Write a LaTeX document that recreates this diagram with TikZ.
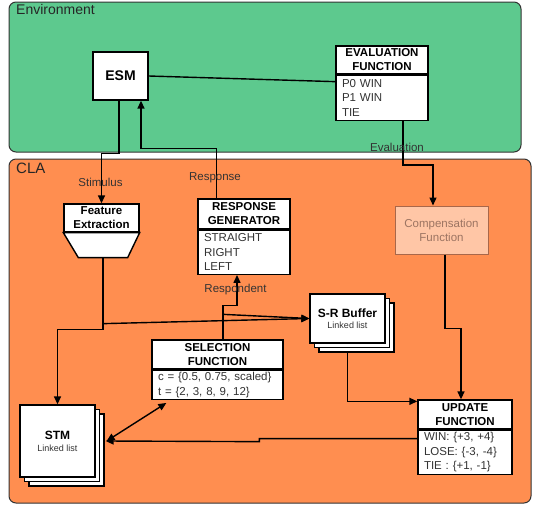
\documentclass[tikz,border=0pt]{standalone}
\usepackage{fontspec}
\setmainfont{Liberation Sans}
\usetikzlibrary{arrows.meta,calc,shadows}
\definecolor{envgreen}{HTML}{5DC98E}
\definecolor{claorange}{HTML}{FF8E50}
\definecolor{compfill}{HTML}{FFC6A6}
\definecolor{compline}{HTML}{A8674A}
\definecolor{comptext}{HTML}{9C7462}
\definecolor{edge}{HTML}{333333}
\tikzset{
  panel/.style={draw=edge,line width=1pt,rounded corners=7pt,inner sep=0pt},
  hdr/.style={draw,fill=white,line width=1.3pt,inner sep=0pt,align=center,
    font=\fontsize{11.5}{14}\selectfont\bfseries},
  lst/.style={draw,fill=white,line width=1.3pt,inner xsep=6pt,inner ysep=0pt,
    align=left,text=black!80,font=\fontsize{11.5}{14.5}\selectfont},
  doc/.style={draw,fill=white,line width=1.3pt,inner sep=0pt,align=center,
    double copy shadow={shadow xshift=4.5pt,shadow yshift=-4.5pt,draw,fill=white}},
  lbl/.style={text=black!80,font=\fontsize{11.5}{13}\selectfont,inner sep=0pt},
  ln/.style={line width=1.4pt},
  arr/.style={line width=1.4pt,-{Triangle[length=8pt,width=7pt]}}
}
\begin{document}
\begin{tikzpicture}[x=1pt,y=-1pt]
  \useasboundingbox (0,0) rectangle (533,506);
  % the two panels
  \node[panel,fill=envgreen,minimum width=512pt,minimum height=150pt] (env) at (265,77) {};
  \node[panel,fill=claorange,minimum width=522pt,minimum height=344pt] (cla) at (270,331) {};
  \node[anchor=north west,inner sep=0pt,text=black!85,font=\fontsize{14}{16}\selectfont] (envlbl) at (16,4) {Environment};
  \node[anchor=north west,inner sep=0pt,text=black!85,font=\fontsize{15}{17}\selectfont] (clalbl) at (16,163) {CLA};

  % environment
  \node[draw,fill=white,line width=1.3pt,minimum width=55pt,minimum height=48pt,
    font=\fontsize{14}{16}\selectfont\bfseries] (esm) at (120.5,76) {ESM};
  \node[hdr,minimum width=92pt,minimum height=28pt] (evalhead) at (382,60) {EVALUATION\\FUNCTION};
  \node[lst,text width=80pt,minimum height=45pt,anchor=north] (evalbody) at (evalhead.south) {P0 WIN\\P1 WIN\\TIE};

  % CLA
  \node[hdr,minimum width=75pt,minimum height=28pt] (feat) at (101.5,218) {Feature\\Extraction};
  \draw[ln,fill=white] (feat.south west) -- (feat.south east) -- ++(-12,25)
    -- ($(feat.south west)+(15,25)$) -- cycle;
  \coordinate (featbot) at ($(feat.south)+(1.5,25)$);

  \node[hdr,minimum width=92pt,minimum height=30pt] (rghead) at (244,214) {RESPONSE\\GENERATOR};
  \node[lst,text width=80pt,minimum height=44pt,anchor=north] (rgbody) at (rghead.south) {STRAIGHT\\RIGHT\\LEFT};

  \node[draw=compline,fill=compfill,line width=1pt,text=comptext,minimum width=93pt,minimum height=48pt,
    align=center,font=\fontsize{11.5}{14}\selectfont] (comp) at (441.5,230) {Compensation\\Function};

  \node[doc,minimum width=75pt,minimum height=49pt,text=black!80,font=\fontsize{9}{11}\selectfont] (buf) at (347.5,318.5)
    {{\fontsize{12}{11}\selectfont\bfseries\color{black}S-R Buffer}\\Linked list};

  \node[hdr,minimum width=131pt,minimum height=29pt] (selhead) at (217.5,354.5) {SELECTION\\FUNCTION};
  \node[lst,text width=119pt,minimum height=29pt,anchor=north] (selbody) at (selhead.south)
    {c = \{0.5, 0.75, scaled\}\\t = \{2, 3, 8, 9, 12\}};

  \node[hdr,minimum width=94pt,minimum height=29pt] (updhead) at (465,414.5) {UPDATE\\FUNCTION};
  \node[lst,text width=82pt,minimum height=44pt,anchor=north] (updbody) at (updhead.south)
    {WIN: \{+3, +4\}\\LOSE: \{-3, -4\}\\TIE : \{+1, -1\}};

  \node[doc,minimum width=75pt,minimum height=72pt,text=black!80,font=\fontsize{9}{12}\selectfont] (stm) at (57.5,441)
    {{\fontsize{12}{12}\selectfont\bfseries\color{black}STM}\\Linked list};

  % connectors
  \draw[ln] (esm.east) -- ($(evalbody.north west)+(0,7)$);
  \draw[arr] ($(esm.south)+(-1.5,0)$) -- ++(0,53) -| (feat.north);
  \draw[arr] ($(rghead.north west)+(19,0)$) -- ++(0,-50) -| ($(esm.south)+(20.5,0)$);
  \draw[arr] ($(evalbody.south)+(21,0)$) -- ++(0,44) -| ($(comp.north)+(-8.5,0)$);
  \draw[arr] ($(comp.south)+(3.5,0)$) -- ++(0,74) -| ($(updhead.north)+(-4,0)$);
  \draw[arr] ($(buf.south)+(0,9)$) |- ($(updhead.north west)+(0,2)$);
  \draw[arr] ($(updbody.north west)+(0,9)$) -- ++(-158,0) -- ++(0,3) -- ($(stm.east)+(10,0)$);
  \draw[ln,{Triangle[length=8pt,width=7pt]}-{Triangle[length=8pt,width=7pt]}]
    ($(stm.east)+(11,0)$) -- ($(selbody.south west)+(15,3)$);
  \draw[arr] (featbot) -- ++(0,72) -| (stm.north);
  \draw[arr] ($(featbot)+(0,66)$) -- (buf.west);
  \draw[arr] ($(selhead.north)+(5.5,0)$) -- ++(0,-34) -| ($(rgbody.south)+(-7,0)$);
  \draw[arr] ($(selhead.north)+(5.5,-25)$) -- (buf.west);

  % connector labels
  \node[lbl] (stimlbl) at (100.5,182) {Stimulus};
  \node[lbl] (resplbl) at (215,178) {Response};
  \node[lbl] (evallbl) at (397,147) {Evaluation};
  \node[lbl] (rsptlbl) at (235.5,290) {Respondent};
\end{tikzpicture}
\end{document}
